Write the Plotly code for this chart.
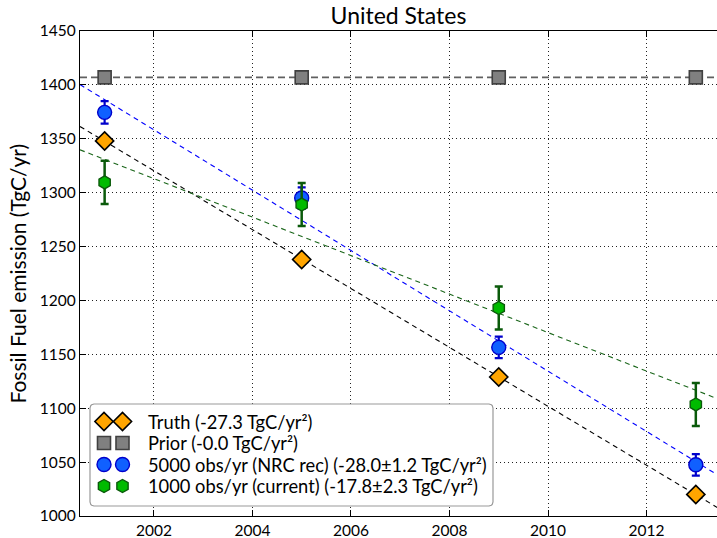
import numpy as np
import plotly.graph_objects as go

years = [2001, 2005, 2009, 2013]
truth = [1348, 1238, 1129, 1020]
prior = [1407, 1407, 1407, 1407]
obs5000 = [1374.5, 1295, 1156.5, 1047.5]
obs5000_err = [10.5, 10, 10, 10]
obs1000 = [1309.5, 1289, 1193, 1103.5]
obs1000_err = [20, 20, 20, 20]

names = ["Truth (-27.3 TgC/yr²)", "Prior (-0.0 TgC/yr²)",
         "5000 obs/yr (NRC rec) (-28.0±1.2 TgC/yr²)",
         "1000 obs/yr (current) (-17.8±2.3 TgC/yr²)"]

x_range = [2000.5, 2013.43]
xline = np.array([2000.5, 2013.5])

FONT = "Lato, Open Sans, sans-serif"

# plot-area geometry in pixels (for the matplotlib-style legend)
L, R, T, B = 80, 717, 31, 516
W, H = R - L, B - T

styles = [
    dict(symbol="diamond", size=14, color="#FFA500", line=dict(color="black", width=1.6)),
    dict(symbol="square", size=13, color="#808080", line=dict(color="#404040", width=1.6)),
    dict(symbol="circle", size=14, color="#1060FF", line=dict(color="#0000CC", width=1.4)),
    dict(symbol="hexagon", size=13, color="#00BB00", line=dict(color="#0A5A0A", width=1.4)),
]

fig = go.Figure()

def fit_line(vals):
    p = np.polyfit(years, vals, 1)
    return np.polyval(p, xline)

fig.add_trace(go.Scatter(x=xline, y=fit_line(prior), mode="lines",
                         line=dict(color="#606060", width=1.6, dash="7px,4px"),
                         showlegend=False, hoverinfo="skip"))
fig.add_trace(go.Scatter(x=xline, y=fit_line(truth), mode="lines",
                         line=dict(color="black", width=1.1, dash="5px,4px"),
                         showlegend=False, hoverinfo="skip"))
fig.add_trace(go.Scatter(x=xline, y=fit_line(obs5000), mode="lines",
                         line=dict(color="#0000FF", width=1.1, dash="5px,4px"),
                         showlegend=False, hoverinfo="skip"))
fig.add_trace(go.Scatter(x=xline, y=fit_line(obs1000), mode="lines",
                         line=dict(color="#1a661a", width=1.1, dash="5px,4px"),
                         showlegend=False, hoverinfo="skip"))

fig.add_trace(go.Scatter(x=years, y=truth, mode="markers", name=names[0],
                         marker=styles[0], showlegend=False))
fig.add_trace(go.Scatter(x=years, y=prior, mode="markers", name=names[1],
                         marker=styles[1], showlegend=False))
fig.add_trace(go.Scatter(x=years, y=obs5000, mode="markers", name=names[2],
                         error_y=dict(type="data", array=obs5000_err, color="#0000CC",
                                      thickness=2.2, width=4),
                         marker=styles[2], showlegend=False))
fig.add_trace(go.Scatter(x=years, y=obs1000, mode="markers", name=names[3],
                         error_y=dict(type="data", array=obs1000_err, color="#0A5A0A",
                                      thickness=2.5, width=4),
                         marker=styles[3], showlegend=False))

# matplotlib-style legend: rounded box, two swatch markers per row, text
bx0, bx1, by0, by1, rad = 90, 493, 404, 506, 4
row_y = [421.5, 443, 464.5, 486]
swatch_x = [104, 122.5]
text_x = 146

def rounded_box(x0, x1, y0, y1, r):
    xs, ys = [], []
    corners = [(x1 - r, y0 + r, -90, 0), (x1 - r, y1 - r, 0, 90),
               (x0 + r, y1 - r, 90, 180), (x0 + r, y0 + r, 180, 270)]
    for cx, cy, a0, a1 in corners:
        a = np.radians(np.linspace(a0, a1, 6))
        xs.extend(cx + r * np.cos(a))
        ys.extend(cy + r * np.sin(a))
    xs.append(xs[0]); ys.append(ys[0])
    return xs, ys

bxs, bys = rounded_box(bx0, bx1, by0, by1, rad)
fig.add_trace(go.Scatter(x=bxs, y=bys, xaxis="x2", yaxis="y2", mode="lines",
                         fill="toself", fillcolor="white",
                         line=dict(color="#999999", width=1.2),
                         showlegend=False, hoverinfo="skip"))

for i, nm in enumerate(names):
    fig.add_trace(go.Scatter(x=swatch_x, y=[row_y[i]] * 2, xaxis="x2", yaxis="y2",
                             mode="markers", marker=styles[i], showlegend=False,
                             hoverinfo="skip"))
    fig.add_annotation(text=nm, xref="paper", yref="paper",
                       x=(text_x - L) / W, y=(B - row_y[i]) / H,
                       xanchor="left", yanchor="middle", showarrow=False,
                       font=dict(family=FONT, size=18.3, color="black"))

fig.update_layout(
    width=717, height=538,
    margin=dict(l=L, r=717 - R, t=T, b=538 - B, autoexpand=False),
    paper_bgcolor="white", plot_bgcolor="white",
    font=dict(family=FONT, size=16, color="black"),
    title=dict(text="United States", x=(80 + 717) / 2 / 717, xanchor="center",
               y=1 - 16 / 538, yanchor="middle", automargin=False,
               font=dict(family=FONT, size=23, color="black")),
    showlegend=False,
    xaxis=dict(range=x_range, tickvals=[2002, 2004, 2006, 2008, 2010, 2012],
               ticks="inside", ticklen=6, tickcolor="black", showline=True,
               linecolor="black", linewidth=1.2, mirror="ticks", automargin=False,
               showgrid=True, gridcolor="#222222", gridwidth=1, griddash="1px,3px",
               zeroline=False, tickfont=dict(family=FONT, size=15.5)),
    yaxis=dict(range=[1000, 1450], tickvals=list(range(1000, 1451, 50)),
               ticks="inside", ticklen=6, tickcolor="black", showline=True,
               linecolor="black", linewidth=1.2, mirror=False, automargin=False,
               showgrid=True, gridcolor="#222222", gridwidth=1, griddash="1px,3px",
               zeroline=False, tickfont=dict(family=FONT, size=15.5)),
    xaxis2=dict(overlaying="x", range=[L, R], visible=False, showgrid=False,
                zeroline=False, fixedrange=True),
    yaxis2=dict(overlaying="y", range=[B, T], visible=False, showgrid=False,
                zeroline=False, fixedrange=True),
)

fig.add_annotation(text="Fossil Fuel emission (TgC/yr)", textangle=-90,
                   xref="paper", yref="paper", x=(17 - 80) / 637, y=0.5,
                   xanchor="center", yanchor="middle", showarrow=False,
                   font=dict(family=FONT, size=21, color="black"))

fig.write_html("out.html", config={"displayModeBar": False},
               post_script="document.body.style.margin='0px';document.body.style.overflow='hidden';")
